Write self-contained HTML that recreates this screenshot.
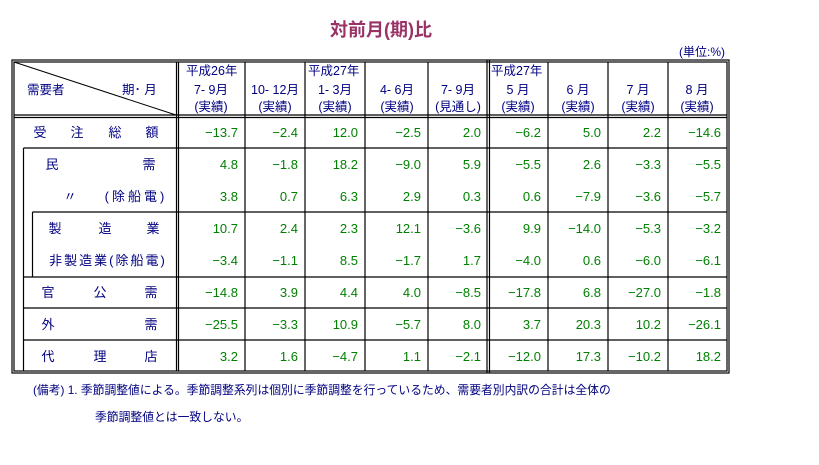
<!DOCTYPE html>
<html><head><meta charset="utf-8"><style>
body{margin:0;background:#fff;width:819px;height:465px;overflow:hidden}
svg{display:block}
text{font-family:"Liberation Sans","Noto Sans CJK JP",sans-serif}
.h{fill:#000080;font-size:12.5px}
.n{fill:#008000;font-size:13px;text-anchor:end}
.c{text-anchor:middle}
</style></head><body>
<svg width="819" height="465" xmlns="http://www.w3.org/2000/svg">
<text x="381" y="36" text-anchor="middle" style="font-size:18px;fill:#993366;font-weight:bold">対前月(期)比</text>
<text x="725" y="56" class="h" text-anchor="end" style="font-size:12px">(単位:%)</text>
<g stroke="#000" stroke-width="1.2" fill="none">
<rect x="12" y="60" width="717" height="313"/>
<rect x="14" y="62" width="713" height="309"/>
<line x1="14" y1="115" x2="727" y2="115"/>
<line x1="14" y1="117.5" x2="727" y2="117.5"/>
<line x1="176.5" y1="62" x2="176.5" y2="371"/>
<line x1="178.5" y1="62" x2="178.5" y2="371"/>
<line x1="487" y1="60" x2="487" y2="373"/>
<line x1="489.5" y1="60" x2="489.5" y2="373"/>
<line x1="245" y1="62" x2="245" y2="371"/>
<line x1="305" y1="62" x2="305" y2="371"/>
<line x1="365" y1="62" x2="365" y2="371"/>
<line x1="428" y1="62" x2="428" y2="371"/>
<line x1="548" y1="62" x2="548" y2="371"/>
<line x1="608" y1="62" x2="608" y2="371"/>
<line x1="668" y1="62" x2="668" y2="371"/>
<line x1="23.5" y1="148" x2="23.5" y2="371"/>
<line x1="32.5" y1="212" x2="32.5" y2="277"/>
<line x1="23.5" y1="148" x2="727" y2="148"/>
<line x1="32.5" y1="212" x2="727" y2="212"/>
<line x1="23.5" y1="277" x2="727" y2="277"/>
<line x1="23.5" y1="308" x2="727" y2="308"/>
<line x1="23.5" y1="340" x2="727" y2="340"/>
<line x1="14" y1="62" x2="176" y2="115" stroke-width="1"/>
</g>
<text x="27" y="94" class="h">需要者</text>
<text x="122" y="94" class="h">期･ 月</text>
<g class="h">
<text x="186" y="75">平成26年</text>
<text x="211" y="94" class="c">7- 9月</text>
<text x="211" y="111" class="c">(実績)</text>
<text x="275" y="94" class="c">10- 12月</text>
<text x="275" y="111" class="c">(実績)</text>
<text x="308" y="75">平成27年</text>
<text x="335" y="94" class="c">1- 3月</text>
<text x="335" y="111" class="c">(実績)</text>
<text x="397" y="94" class="c">4- 6月</text>
<text x="397" y="111" class="c">(実績)</text>
<text x="458" y="94" class="c">7- 9月</text>
<text x="458" y="111" class="c">(見通し)</text>
<text x="491" y="75">平成27年</text>
<text x="518" y="94" class="c">5 月</text>
<text x="518" y="111" class="c">(実績)</text>
<text x="578" y="94" class="c">6 月</text>
<text x="578" y="111" class="c">(実績)</text>
<text x="638" y="94" class="c">7 月</text>
<text x="638" y="111" class="c">(実績)</text>
<text x="697" y="94" class="c">8 月</text>
<text x="697" y="111" class="c">(実績)</text>
</g>
<g class="h" text-anchor="middle" style="font-size:13px">
<text x="40" y="137">受</text><text x="77" y="137">注</text><text x="115" y="137">総</text><text x="152" y="137">額</text>
<text x="52" y="169">民</text><text x="149" y="169">需</text>
<text x="70" y="201">〃</text><text x="136" y="201" style="letter-spacing:3px">(除船電)</text>
<text x="55" y="233">製</text><text x="105" y="233">造</text><text x="153" y="233">業</text>
<text x="108" y="265" style="letter-spacing:2px">非製造業(除船電)</text>
<text x="48" y="297">官</text><text x="100" y="297">公</text><text x="151" y="297">需</text>
<text x="48" y="329">外</text><text x="151" y="329">需</text>
<text x="48" y="361">代</text><text x="100" y="361">理</text><text x="151" y="361">店</text>
</g>
<g class="n">
<g transform="translate(0,137)"><text x="238">−13.7</text><text x="298">−2.4</text><text x="358">12.0</text><text x="421">−2.5</text><text x="481">2.0</text><text x="541">−6.2</text><text x="601">5.0</text><text x="661">2.2</text><text x="721">−14.6</text></g>
<g transform="translate(0,169)"><text x="238">4.8</text><text x="298">−1.8</text><text x="358">18.2</text><text x="421">−9.0</text><text x="481">5.9</text><text x="541">−5.5</text><text x="601">2.6</text><text x="661">−3.3</text><text x="721">−5.5</text></g>
<g transform="translate(0,201)"><text x="238">3.8</text><text x="298">0.7</text><text x="358">6.3</text><text x="421">2.9</text><text x="481">0.3</text><text x="541">0.6</text><text x="601">−7.9</text><text x="661">−3.6</text><text x="721">−5.7</text></g>
<g transform="translate(0,233)"><text x="238">10.7</text><text x="298">2.4</text><text x="358">2.3</text><text x="421">12.1</text><text x="481">−3.6</text><text x="541">9.9</text><text x="601">−14.0</text><text x="661">−5.3</text><text x="721">−3.2</text></g>
<g transform="translate(0,265)"><text x="238">−3.4</text><text x="298">−1.1</text><text x="358">8.5</text><text x="421">−1.7</text><text x="481">1.7</text><text x="541">−4.0</text><text x="601">0.6</text><text x="661">−6.0</text><text x="721">−6.1</text></g>
<g transform="translate(0,297)"><text x="238">−14.8</text><text x="298">3.9</text><text x="358">4.4</text><text x="421">4.0</text><text x="481">−8.5</text><text x="541">−17.8</text><text x="601">6.8</text><text x="661">−27.0</text><text x="721">−1.8</text></g>
<g transform="translate(0,329)"><text x="238">−25.5</text><text x="298">−3.3</text><text x="358">10.9</text><text x="421">−5.7</text><text x="481">8.0</text><text x="541">3.7</text><text x="601">20.3</text><text x="661">10.2</text><text x="721">−26.1</text></g>
<g transform="translate(0,361)"><text x="238">3.2</text><text x="298">1.6</text><text x="358">−4.7</text><text x="421">1.1</text><text x="481">−2.1</text><text x="541">−12.0</text><text x="601">17.3</text><text x="661">−10.2</text><text x="721">18.2</text></g>
</g>
<text x="33" y="394" class="h" style="font-size:11.8px">(備考)  1.  季節調整値による。季節調整系列は個別に季節調整を行っているため、需要者別内訳の合計は全体の</text>
<text x="95" y="421" class="h" style="font-size:11.8px">季節調整値とは一致しない。</text>
</svg>
</body></html>
